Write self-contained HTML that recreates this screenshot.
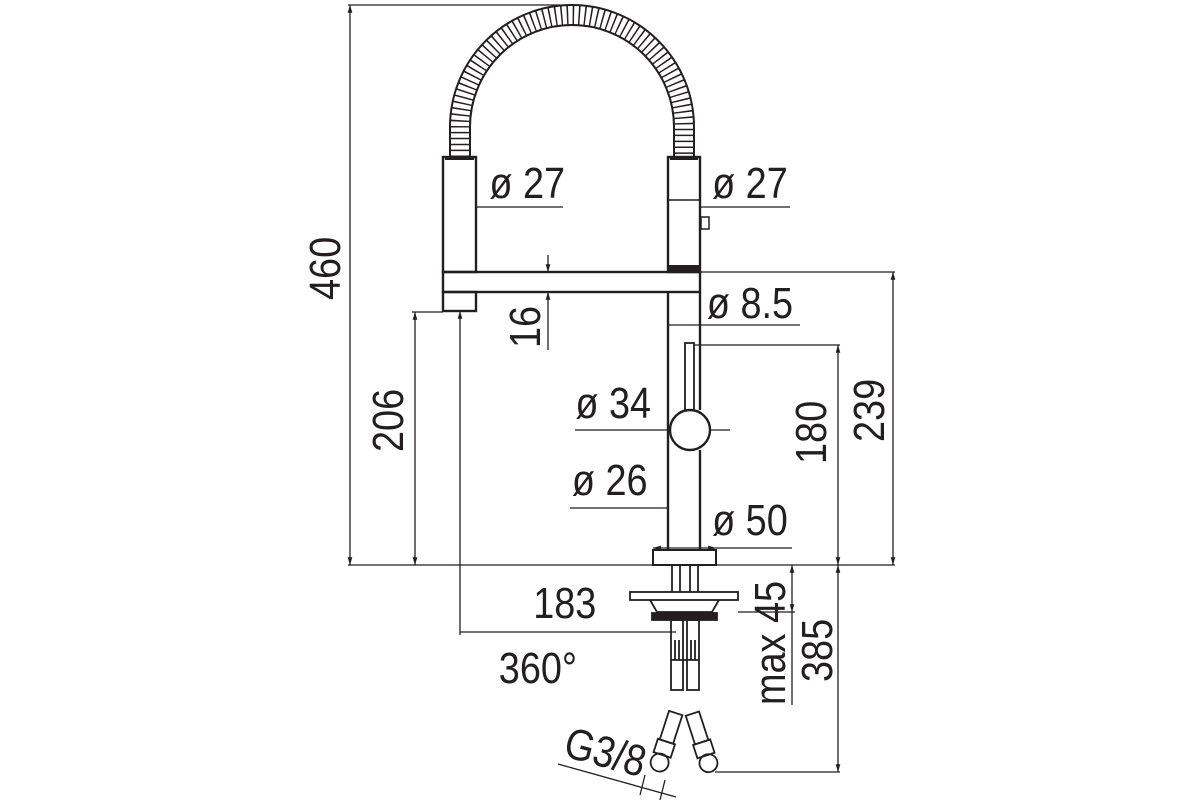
<!DOCTYPE html>
<html><head><style>
html,body{margin:0;padding:0;background:#fff;}
svg{display:block}
text{font-family:"Liberation Sans",Arial,sans-serif;font-size:44px;fill:#231f20;}
</style></head><body>
<svg width="1200" height="800" viewBox="0 0 1200 800" xmlns="http://www.w3.org/2000/svg">
<defs>
<marker id="a" viewBox="0 0 10 10" refX="10" refY="5" markerWidth="6" markerHeight="6" orient="auto-start-reverse"><path d="M0,2 L10,5 L0,8z" fill="#231f20"/></marker>
</defs>
<g stroke="#231f20" fill="none">
<g stroke-width="1.3">
<line x1="348" y1="5" x2="560" y2="5"/>
<line x1="350" y1="5" x2="350" y2="565" marker-start="url(#a)" marker-end="url(#a)"/>
<line x1="348" y1="565" x2="895" y2="565"/>
<line x1="412" y1="312" x2="443" y2="312"/>
<line x1="415" y1="312" x2="415" y2="565" marker-start="url(#a)" marker-end="url(#a)"/>
<line x1="460" y1="311" x2="460" y2="635" marker-start="url(#a)"/>
<line x1="460" y1="632" x2="676" y2="632"/>
<line x1="548" y1="255" x2="548" y2="272" marker-end="url(#a)"/>
<line x1="548" y1="292" x2="548" y2="350" marker-start="url(#a)"/>
<line x1="443" y1="207" x2="476" y2="207" marker-start="url(#a)" marker-end="url(#a)"/>
<line x1="476" y1="207" x2="563" y2="207"/>
<line x1="668" y1="207" x2="700" y2="207" marker-start="url(#a)" marker-end="url(#a)"/>
<line x1="700" y1="207" x2="790" y2="207"/>
<line x1="668" y1="325" x2="800" y2="325"/>
<line x1="700" y1="272" x2="895" y2="272"/>
<line x1="893" y1="272" x2="893" y2="565" marker-start="url(#a)" marker-end="url(#a)"/>
<line x1="694" y1="345" x2="840" y2="345"/>
<line x1="838" y1="345" x2="838" y2="565" marker-start="url(#a)" marker-end="url(#a)"/>
<line x1="575" y1="430" x2="730" y2="430"/>
<line x1="570" y1="508" x2="668" y2="508"/>
<line x1="653" y1="548" x2="716" y2="548" marker-start="url(#a)" marker-end="url(#a)"/>
<line x1="716" y1="548" x2="792" y2="548"/>
<line x1="792" y1="565" x2="792" y2="612" marker-start="url(#a)" marker-end="url(#a)"/>
<line x1="738" y1="612" x2="795" y2="612"/>
<line x1="792" y1="612" x2="792" y2="705"/>
<line x1="838" y1="565" x2="838" y2="772" marker-start="url(#a)" marker-end="url(#a)"/>
<line x1="715" y1="772" x2="840" y2="772"/>
<line x1="558" y1="764" x2="676" y2="797"/>
<line x1="645" y1="775" x2="640" y2="795"/>
<line x1="665" y1="780" x2="660" y2="800"/>
</g>
<!-- hose -->
<path d="M460,157 L460,127 A112,112 0 0 1 684,127 L684,157" stroke-width="19" stroke-dasharray="1.5 4.4"/>
<g stroke-width="2">
<path d="M450,157 L450,127 A122,122 0 0 1 694,127 L694,157"/>
<path d="M470,157 L470,127 A102,102 0 0 1 674,127 L674,157"/>
</g>
<g stroke-width="2.4">
<rect x="443" y="157" width="33" height="115" fill="#fff"/>
<rect x="668" y="157" width="32" height="115" fill="#fff"/>
<rect x="443" y="272" width="257" height="20"/>
<rect x="443" y="292" width="33" height="19"/>
<line x1="668" y1="200" x2="700" y2="200" stroke-width="1.5"/>
<rect x="701" y="217" width="8" height="12" stroke-width="1.5"/>
<line x1="668" y1="292" x2="668" y2="550"/>
<line x1="700" y1="292" x2="700" y2="410"/>
<line x1="700" y1="450" x2="700" y2="550"/>
<rect x="685" y="343" width="9" height="68" stroke-width="1.8"/>
<circle cx="690" cy="430" r="20" fill="#fff"/>
<rect x="653" y="550" width="63" height="15" stroke-width="2"/>
</g>
<rect x="668" y="265" width="32" height="7" fill="#231f20" stroke="none"/>
<rect x="445" y="157" width="29" height="3" fill="#231f20" stroke="none"/>
<rect x="670" y="157" width="28" height="3" fill="#231f20" stroke="none"/>
<g stroke-width="1.8">
<line x1="672" y1="565" x2="672" y2="592"/><line x1="698" y1="565" x2="698" y2="592"/>
<line x1="680" y1="565" x2="680" y2="592"/><line x1="690" y1="565" x2="690" y2="592"/>
<rect x="630" y="592" width="108" height="8"/>
<path d="M650,600 L657,612 L712,612 L719,600"/>
<rect x="652" y="613" width="65" height="7" fill="#231f20"/>
<rect x="671" y="620" width="12" height="70"/>
<rect x="687" y="620" width="12" height="70"/>
<line x1="671" y1="660" x2="699" y2="660"/>
<line x1="675" y1="640" x2="675" y2="660"/><line x1="679" y1="640" x2="679" y2="660"/>
<line x1="691" y1="640" x2="691" y2="660"/><line x1="695" y1="640" x2="695" y2="660"/>
<g transform="rotate(18 668 740)">
<rect x="660" y="712" width="14" height="30"/>
<rect x="658" y="742" width="18" height="14"/>
<circle cx="667" cy="764" r="9"/>
</g>
<g transform="rotate(-18 702 740)">
<rect x="694" y="712" width="14" height="30"/>
<rect x="692" y="742" width="18" height="14"/>
<circle cx="701" cy="764" r="9"/>
</g>
</g>
</g>
<g transform="scale(0.86,1)">
<text x="569" y="198">ø 27</text>
<text x="828" y="198">ø 27</text>
<text x="822" y="318">ø 8.5</text>
<text x="669" y="418">ø 34</text>
<text x="665" y="495">ø 26</text>
<text x="828" y="535">ø 50</text>
<text x="620" y="618">183</text>
<text x="580" y="683">360°</text>
</g>
<text transform="translate(340,300) rotate(-90) scale(0.86,1)">460</text>
<text transform="translate(403,452) rotate(-90) scale(0.86,1)">206</text>
<text transform="translate(540,348) rotate(-90) scale(0.86,1)">16</text>
<text transform="translate(826,464) rotate(-90) scale(0.86,1)">180</text>
<text transform="translate(884,442) rotate(-90) scale(0.86,1)">239</text>
<text transform="translate(785,705) rotate(-90) scale(0.86,1)">max 45</text>
<text transform="translate(832,682) rotate(-90) scale(0.86,1)">385</text>
<text transform="translate(562,756) rotate(15) scale(0.86,1)">G3/8</text>
</svg>
</body></html>
